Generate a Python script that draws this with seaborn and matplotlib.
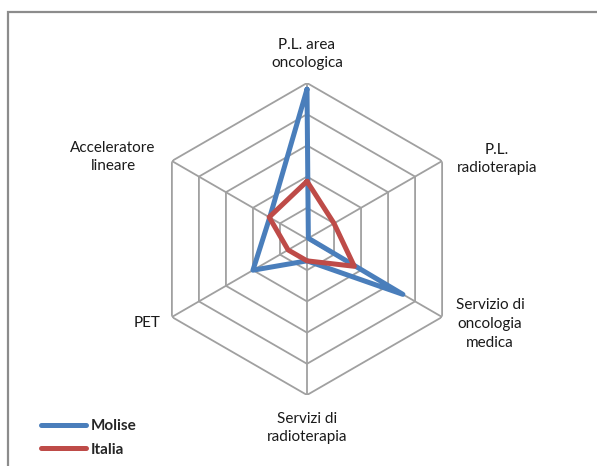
import numpy as np
import pandas as pd
import matplotlib
matplotlib.use('Agg')
import matplotlib.pyplot as plt
import seaborn as sns
from matplotlib.lines import Line2D

# data (scale 0-5)
categories = ['P.L. area\noncologica', 'P.L.\nradioterapia', 'Servizio di\noncologia\nmedica',
              'Servizi di\nradioterapia', 'PET', 'Acceleratore\nlineare']
molise = [4.8, 0.05, 3.55, 0.7, 2.0, 1.38]
italia = [1.85, 1.0, 1.75, 0.7, 0.7, 1.4]
series_names = ['Molise', 'Italia']
colors = ['#4a7ebb', '#be4b48']

sns.set_style('white')
plt.rcParams['font.family'] = ['Lato', 'DejaVu Sans']

W, H = 597, 466
fig = plt.figure(figsize=(W / 100, H / 100), dpi=100)

def fx(px):
    return px / W

def fy(py):
    return 1 - py / H

# outer chart frame (cut off at right and bottom like the reference)
frame = plt.Rectangle((fx(8), fy(600)), fx(700), (600 - 12) / H, transform=fig.transFigure,
                      fill=False, edgecolor='#8c8c8c', linewidth=1.6)
fig.add_artist(frame)

cx, cy, R = 307, 239, 156
ax = fig.add_axes([fx(cx - R), fy(cy + R), 2 * R / W, 2 * R / H], projection='polar')
ax.set_theta_zero_location('N')
ax.set_theta_direction(-1)
ax.set_ylim(0, 5)
ax.grid(False)
ax.set_xticks([])
ax.set_yticks([])
ax.spines['polar'].set_visible(False)
ax.patch.set_alpha(0)

n = len(categories)
theta = np.arange(n) * 2 * np.pi / n
theta_closed = np.append(theta, theta[0])

# hexagonal grid
grid_color = '#a0a0a0'
for r in range(1, 6):
    ax.plot(theta_closed, [r] * (n + 1), color=grid_color, linewidth=1.3, zorder=1)
for t in theta:
    ax.plot([t, t], [0, 5], color=grid_color, linewidth=1.3, zorder=1)

rows = []
for name, vals in zip(series_names, [molise, italia]):
    for i, (t, v) in enumerate(zip(theta_closed, vals + vals[:1])):
        rows.append({'serie': name, 'theta': t, 'valore': v, 'ordine': i})
df = pd.DataFrame(rows)

sns.lineplot(data=df, x='theta', y='valore', hue='serie', palette=colors, sort=False,
             estimator=None, units='serie', linewidth=3.6, ax=ax, legend=False, zorder=3)
ax.set_xlabel('')
ax.set_ylabel('')

# category labels
label_pos = [(307, 54), (497, 159), (490, 324), (307, 428), (147, 323), (113, 157)]
for lab, (px, py) in zip(categories, label_pos):
    fig.text(fx(px), fy(py), lab, ha='center', va='center', fontsize=11,
             color='#1a1a1a', linespacing=1.45)

# legend
handles = [Line2D([0], [0], color=c, linewidth=3.6, solid_capstyle='round') for c in colors]
leg = fig.legend(handles, series_names, loc='center left', bbox_to_anchor=(fx(33), fy(438)),
                 frameon=False, borderpad=0, handlelength=3.0, handletextpad=0.25,
                 labelspacing=0.6, prop={'weight': 'bold', 'size': 11})

fig.savefig('out.png', dpi=100)
